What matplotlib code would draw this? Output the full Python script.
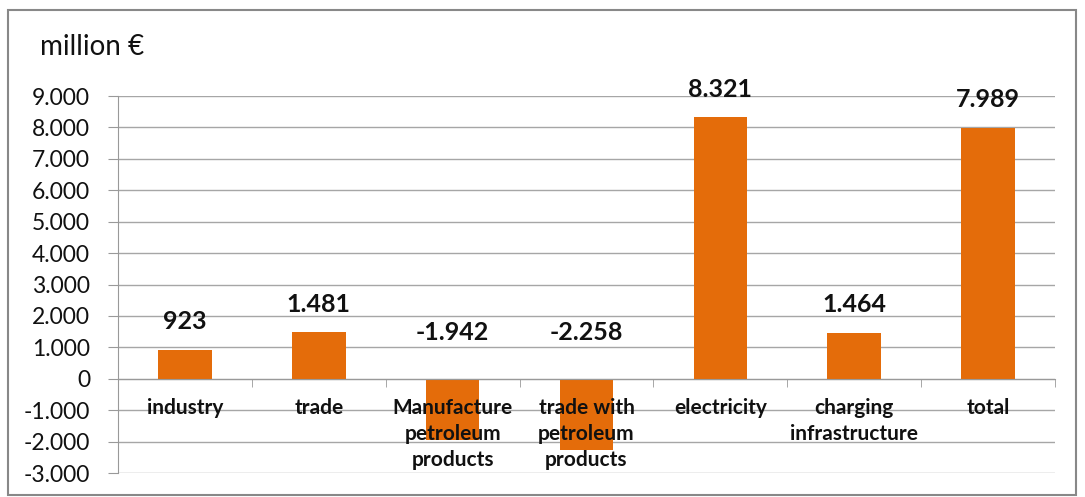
import matplotlib
matplotlib.use('Agg')
import matplotlib.pyplot as plt
from matplotlib.patches import Rectangle
from matplotlib.ticker import FixedLocator, FuncFormatter
import numpy as np

categories = ['industry', 'trade', 'Manufacture\npetroleum\nproducts',
              'trade with\npetroleum\nproducts', 'electricity',
              'charging\ninfrastructure', 'total']
values = [923, 1481, -1942, -2258, 8321, 1464, 7989]
value_labels = ['923', '1.481', '-1.942', '-2.258', '8.321', '1.464', '7.989']
y_ticks = list(range(-3000, 9001, 1000))

plt.rcParams['font.family'] = ['Lato', 'DejaVu Sans']

fig = plt.figure(figsize=(10.85, 4.97), dpi=100)
fig.patches.append(Rectangle((8 / 1085, 0.004), 1068 / 1085, 0.975,
                             transform=fig.transFigure, fill=False,
                             edgecolor='#888888', linewidth=1.5))
ax = fig.add_axes([118 / 1085, 1 - 473 / 497, 937 / 1085, 377 / 497])

x = np.arange(len(categories))
ax.bar(x, values, width=0.4, color='#E46C0A', zorder=3)

# data labels: above bar top for positives, above the zero line for negatives
for xi, v, lab in zip(x, values, value_labels):
    base = v if v > 0 else 0
    off = 20 if v > 0 else 33
    ax.annotate(lab, (xi, base), xytext=(0, off), textcoords='offset points',
                ha='center', va='center', fontsize=18, fontweight='bold',
                color='#111111', zorder=4)

ax.set_xlim(-0.5, len(categories) - 0.5)
ax.set_ylim(-3000, 9000)
ax.set_yticks(y_ticks)
ax.yaxis.set_major_formatter(FuncFormatter(lambda v, p: f'{int(v):,}'.replace(',', '.')))
ax.tick_params(axis='y', labelsize=16.5, length=7, color='#999999', labelcolor='#111111', pad=13)
ax.yaxis.grid(True, color='#a6a6a6', linewidth=1)
ax.yaxis.set_zorder(0.5)
ax.xaxis.set_zorder(5)

ax.spines['bottom'].set_position(('data', 0))
ax.spines['bottom'].set_color('#999999')
ax.spines['bottom'].set_zorder(4)
ax.spines['left'].set_color('#999999')
ax.spines['top'].set_visible(False)
ax.spines['right'].set_visible(False)

ax.set_xticks(x)
ax.set_xticklabels(categories, fontsize=15, fontweight='bold', linespacing=1.38)
ax.xaxis.set_minor_locator(FixedLocator(np.arange(-0.5, len(categories), 1.0)))
ax.tick_params(axis='x', which='major', length=0, pad=13.5, labelcolor='#111111')
ax.tick_params(axis='x', which='minor', length=6, color='#999999')

fig.text(40 / 1085, 1 - 47 / 497, 'million €', fontsize=20, va='center', color='#111111')

fig.savefig('out.png', dpi=100)
